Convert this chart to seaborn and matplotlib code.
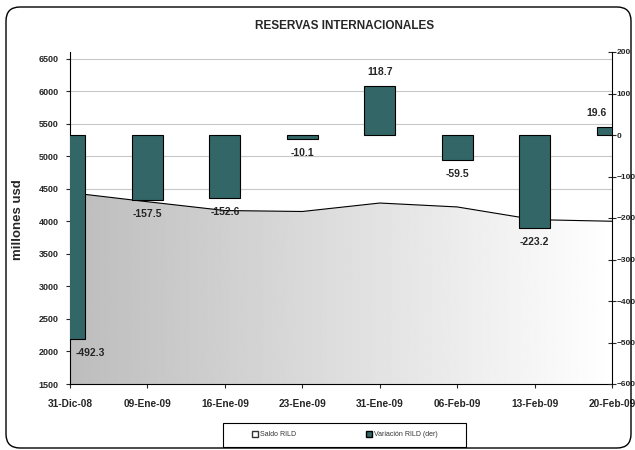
import numpy as np
import pandas as pd
import seaborn as sns
import matplotlib.pyplot as plt
import matplotlib.transforms as mtransforms
from matplotlib.patches import FancyBboxPatch, Rectangle
from matplotlib.lines import Line2D

# data
fechas = ['31-Dic-08', '09-Ene-09', '16-Ene-09', '23-Ene-09',
          '31-Ene-09', '06-Feb-09', '13-Feb-09', '20-Feb-09']
saldo_rild = [4440, 4300, 4165, 4150, 4280, 4220, 4025, 4000]
variacion_rild = [-492.3, -157.5, -152.6, -10.1, 118.7, -59.5, -223.2, 19.6]

df = pd.DataFrame({'pos': np.arange(len(fechas)), 'fecha': fechas,
                   'saldo': saldo_rild, 'variacion': variacion_rild})

sns.set_style('white')
plt.rcParams['font.family'] = ['Liberation Sans', 'DejaVu Sans']
plt.rcParams['font.weight'] = 'bold'

fig = plt.figure(figsize=(6.35, 4.5), dpi=100)
ax = fig.add_axes([70 / 635, 1 - 384 / 450, 542 / 635, 332 / 450])
ax.set_facecolor('white')

# area (left axis) with a grey -> white gradient
sns.lineplot(data=df, x='pos', y='saldo', ax=ax, color='black', linewidth=0.8, zorder=3)
poly = ax.fill_between(df['pos'], df['saldo'], 1500, facecolor='none', edgecolor='none', zorder=2)
grad = np.linspace(0.74, 1.0, 256).reshape(1, -1)
im = ax.imshow(grad, cmap='gray', vmin=0, vmax=1, aspect='auto',
               extent=(0, 7, 1500, 6600), zorder=2, interpolation='bilinear')
im.set_clip_path(poly.get_paths()[0], transform=ax.transData)

ax.set_xlim(0, 7)
ax.set_ylim(1500, 6600)
ax.set_yticks(np.arange(1500, 6501, 500))
ax.yaxis.grid(True, color='#c8c8c8', linewidth=0.8)
ax.set_axisbelow(True)
ax.set_xlabel('')
ax.set_ylabel('')
ax.tick_params(axis='y', direction='out', length=3, width=0.8, pad=5,
               labelsize=6.5, left=True)
ax.tick_params(axis='x', direction='out', length=3, width=0.8, pad=8,
               labelsize=7.3, bottom=True)
for s in ['top', 'right']:
    ax.spines[s].set_visible(False)
for s in ['left', 'bottom']:
    ax.spines[s].set_color('black')
    ax.spines[s].set_linewidth(0.8)

# bars (right axis)
ax2 = ax.twinx()
sns.barplot(data=df, x='pos', y='variacion', ax=ax2, native_scale=True,
            width=0.4, color='#336666', saturation=1, edgecolor='black',
            linewidth=0.8, zorder=4)
ax2.set_xlim(0, 7)
ax2.set_ylim(-600, 200)
ax2.set_yticks(np.arange(-600, 201, 100))
ax2.set_ylabel('')
ax2.set_xlabel('')
ax2.tick_params(axis='y', direction='inout', length=6, width=0.8, pad=0.5,
                labelsize=6, right=True)
for s in ['top', 'left', 'bottom']:
    ax2.spines[s].set_visible(False)
ax2.spines['right'].set_color('black')
ax2.spines['right'].set_linewidth(0.8)
ax.set_xticks(df['pos'])
ax.set_xticklabels(fechas)

for p, v in zip(df['pos'], df['variacion']):
    ha = 'center'
    x = p
    if p == 0:
        ha, x = 'left', p + 0.07
    elif p == len(fechas) - 1:
        ha, x = 'right', p - 0.07
    off = 10 if v > 0 else -10
    ax2.annotate(f'{v:.1f}', (x, v), xytext=(0, off), textcoords='offset points',
                 ha=ha, va='center', fontsize=7.5, fontweight='bold', zorder=5)

# texts
fig.text(345 / 635, 1 - 26 / 450, 'RESERVAS INTERNACIONALES', ha='center', va='center',
         fontsize=8.5, fontweight='bold')
fig.text(18 / 635, 1 - 220 / 450, 'millones usd', ha='center', va='center',
         rotation=90, fontsize=9.5, fontweight='bold')

# legend with its own frame
fig.patches.append(Rectangle((223 / 635, 3 / 450), 243 / 635, 24 / 450,
                             transform=fig.transFigure, facecolor='white',
                             edgecolor='black', linewidth=0.8))
handles = [Line2D([], [], marker='s', linestyle='none', markersize=4,
                  markerfacecolor='white', markeredgecolor='#333333'),
           Line2D([], [], marker='s', linestyle='none', markersize=4,
                  markerfacecolor='#336666', markeredgecolor='black')]
fig.legend(handles, ['Saldo RILD', 'Variación RILD (der)'], loc='center',
           bbox_to_anchor=(345 / 635, 1 - 435 / 450), ncol=2, frameon=False,
           prop={'size': 5, 'weight': 'normal'}, labelcolor='#333333',
           columnspacing=10, handletextpad=0.2, handlelength=1)

# rounded outer border
fig.patches.append(FancyBboxPatch((6, 2), 625, 441, boxstyle='round,pad=0,rounding_size=14',
                                  transform=mtransforms.IdentityTransform(),
                                  facecolor='none', edgecolor='black', linewidth=1))

fig.savefig('out.png', dpi=100)
